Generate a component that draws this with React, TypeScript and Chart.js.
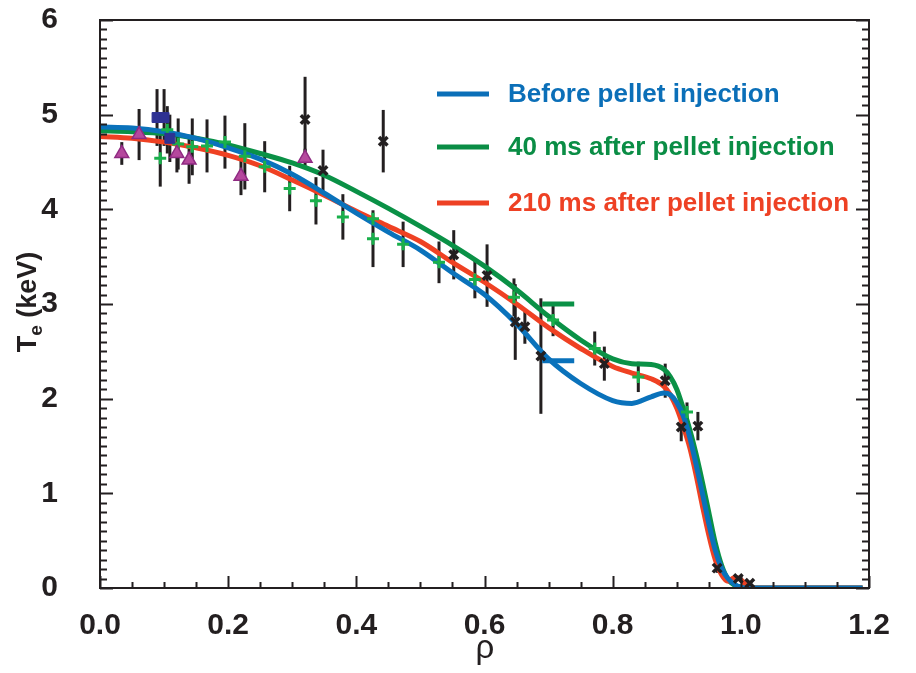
import React, { useEffect, useRef } from "react";
import { Chart, registerables } from "chart.js";

Chart.register(...registerables);

// ---------- data ----------
const curveRho = [0, 0.05, 0.1, 0.15, 0.2, 0.25, 0.3, 0.35, 0.4, 0.45, 0.5, 0.55, 0.6, 0.65, 0.7, 0.75, 0.8, 0.83, 0.86, 0.88, 0.89, 0.9, 0.91, 0.92, 0.93, 0.94, 0.95, 0.96, 0.97, 0.98, 0.99, 1.0, 1.01, 1.02, 1.05, 1.1, 1.19];
const beforeTe = [4.87, 4.86, 4.82, 4.75, 4.65, 4.53, 4.37, 4.17, 3.96, 3.76, 3.57, 3.33, 3.1, 2.79, 2.42, 2.16, 1.98, 1.95, 2.02, 2.06, 2.04, 1.96, 1.82, 1.6, 1.31, 1.0, 0.68, 0.4, 0.21, 0.1, 0.04, 0.01, 0, 0, 0, 0, 0];
const after40Te = [4.83, 4.82, 4.8, 4.75, 4.68, 4.59, 4.49, 4.36, 4.19, 4.01, 3.82, 3.62, 3.4, 3.15, 2.87, 2.62, 2.42, 2.37, 2.36, 2.31, 2.23, 2.1, 1.9, 1.68, 1.42, 1.12, 0.8, 0.48, 0.24, 0.09, 0.03, 0.01, 0, 0, 0, 0, 0];
const after210Te = [4.77, 4.75, 4.71, 4.65, 4.57, 4.46, 4.31, 4.15, 3.98, 3.82, 3.66, 3.44, 3.23, 3.0, 2.75, 2.53, 2.34, 2.27, 2.21, 2.13, 2.04, 1.9, 1.71, 1.49, 1.2, 0.87, 0.56, 0.3, 0.14, 0.07, 0.11, 0.09, 0.02, 0, 0, 0, 0];

// pedestal reference marks
const pedRho = [0.69, 0.74];
const pedGreenTe = [3.0, 3.0];
const pedBlueTe = [2.4, 2.4];

// measured points
const xMarkRho = [0.32, 0.442, 0.348, 0.552, 0.604, 0.648, 0.663, 0.688, 0.787, 0.882, 0.907, 0.933, 0.963, 0.996, 1.014];
const xMarkTe = [4.95, 4.72, 4.41, 3.52, 3.3, 2.81, 2.76, 2.45, 2.37, 2.19, 1.7, 1.71, 0.21, 0.1, 0.05];
const xMarkErr = [0.45, 0.33, 0.22, 0.26, 0.33, 0.4, 0.18, 0.61, 0.18, 0.18, 0.15, 0.15, 0.05, 0, 0];

const plusRho = [0.094, 0.105, 0.122, 0.144, 0.167, 0.195, 0.226, 0.257, 0.296, 0.337, 0.379, 0.426, 0.426, 0.473, 0.529, 0.585, 0.646, 0.707, 0.772, 0.84, 0.916];
const plusTe = [4.54, 4.84, 4.69, 4.66, 4.67, 4.71, 4.56, 4.45, 4.22, 4.09, 3.92, 3.69, 3.9, 3.63, 3.44, 3.26, 3.07, 2.83, 2.53, 2.23, 1.86];
const plusErr = [0.3, 0.25, 0.27, 0.3, 0.28, 0.28, 0.35, 0.27, 0.24, 0.25, 0.24, 0.3, 0, 0.24, 0.22, 0.2, 0.2, 0.17, 0.18, 0.16, 0.1];

const triRho = [0.034, 0.061, 0.12, 0.139, 0.22, 0.32];
const triTe = [4.59, 4.79, 4.59, 4.52, 4.35, 4.54];
const triErr = [0.12, 0.27, 0.2, 0.25, 0.2, 0.1];

const sqRho = [0.089, 0.1, 0.109];
const sqTe = [4.97, 4.97, 4.75];
const sqErr = [0.3, 0.3, 0.25];

const legendLabels = ["Before pellet injection", "40 ms after pellet injection", "210 ms after pellet injection"];
const legendColors = ["#0b6fb8", "#0a8d45", "#ee4124"];

const xTickLabels = ["0.0", "0.2", "0.4", "0.6", "0.8", "1.0", "1.2"];
const yTitle = ["T", "e", " (keV)"];
const xTitle = "ρ";

// ---------- helpers ----------
const pts = (xs: number[], ys: number[]) => xs.map((x, i) => ({ x, y: ys[i] }));
const INK = "#231f20";
const FONT = "'Liberation Sans', Arial, Helvetica, sans-serif";

const errorBarPlugin = {
  id: "errorBars",
  beforeDatasetsDraw(chart: any) {
    const { ctx, scales } = chart;
    const xs = scales.x, ys = scales.y;
    ctx.save();
    ctx.strokeStyle = INK;
    ctx.lineWidth = 3;
    ctx.lineCap = "butt";
    chart.data.datasets.forEach((ds: any) => {
      if (!ds.errors) return;
      ds.data.forEach((p: any, i: number) => {
        const e = ds.errors[i];
        if (!e) return;
        const px = xs.getPixelForValue(p.x);
        ctx.beginPath();
        ctx.moveTo(px, ys.getPixelForValue(p.y - e));
        ctx.lineTo(px, ys.getPixelForValue(p.y + e));
        ctx.stroke();
      });
    });
    ctx.restore();
  },
};

const framePlugin = {
  id: "frame",
  afterDatasetsDraw(chart: any) {
    const { ctx, chartArea: a, scales } = chart;
    const xs = scales.x, ys = scales.y;
    ctx.save();
    ctx.strokeStyle = INK;
    ctx.lineWidth = 2;
    ctx.strokeRect(a.left, a.top, a.right - a.left, a.bottom - a.top);
    ctx.beginPath();
    for (let k = 0; k <= 60; k++) {
      const py = Math.round(ys.getPixelForValue(k / 10)) + 0.5;
      const len = k % 10 === 0 ? 13 : 7;
      ctx.moveTo(a.left, py);
      ctx.lineTo(a.left + len, py);
      ctx.moveTo(a.right, py);
      ctx.lineTo(a.right - len, py);
    }
    for (let k = 0; k <= 24; k++) {
      const px = Math.round(xs.getPixelForValue(k * 0.05)) + 0.5;
      const len = k % 4 === 0 ? 12 : 6;
      ctx.moveTo(px, a.bottom);
      ctx.lineTo(px, a.bottom - len);
    }
    ctx.stroke();

    // legend
    ctx.font = `bold 26px ${FONT}`;
    ctx.textBaseline = "middle";
    ctx.textAlign = "left";
    const rows = [86, 139, 195];
    legendLabels.forEach((lab, i) => {
      ctx.strokeStyle = legendColors[i];
      ctx.lineWidth = 5;
      ctx.beginPath();
      ctx.moveTo(429, rows[i]);
      ctx.lineTo(481, rows[i]);
      ctx.stroke();
      ctx.fillStyle = legendColors[i];
      ctx.fillText(lab, 500, rows[i] + 1);
    });
    ctx.restore();
  },
  afterDraw(chart: any) {
    const { ctx } = chart;
    ctx.save();
    ctx.fillStyle = INK;
    ctx.translate(21, 294);
    ctx.rotate(-Math.PI / 2);
    ctx.textBaseline = "middle";
    ctx.textAlign = "left";
    const big = `bold 27px ${FONT}`;
    const small = `bold 19px ${FONT}`;
    ctx.font = big;
    const w1 = ctx.measureText(yTitle[0]).width;
    const w3 = ctx.measureText(yTitle[2]).width;
    ctx.font = small;
    const w2 = ctx.measureText(yTitle[1]).width;
    const x0 = -(w1 + w2 + w3) / 2;
    ctx.font = big;
    ctx.fillText(yTitle[0], x0, 0);
    ctx.font = small;
    ctx.fillText(yTitle[1], x0 + w1, 8);
    ctx.font = big;
    ctx.fillText(yTitle[2], x0 + w1 + w2, 0);
    ctx.restore();

    ctx.save();
    ctx.fillStyle = INK;
    ctx.font = `33px ${FONT}`;
    ctx.textAlign = "center";
    ctx.textBaseline = "alphabetic";
    ctx.fillText(xTitle, 477, 650);
    ctx.restore();
  },
};

export default function App() {
  const ref = useRef<HTMLCanvasElement>(null);

  useEffect(() => {
    const curve = (data: any, color: string, order: number) => ({
      data,
      showLine: true,
      borderColor: color,
      backgroundColor: color,
      borderWidth: 5,
      pointRadius: 0,
      cubicInterpolationMode: "monotone",
      order,
    });
    const tickFont = { family: FONT, weight: "bold" as const, size: 30 };

    const chart = new Chart(ref.current!, {
      type: "scatter",
      data: {
        datasets: [
          curve(pts(curveRho, after210Te), "#ef4123", 3),
          curve(pts(curveRho, after40Te), "#0a9146", 4),
          curve(pts(curveRho, beforeTe), "#0a72bb", 2),
          { ...curve(pts(pedRho, pedGreenTe), "#0a9146", 2), borderCapStyle: "butt" } as any,
          { ...curve(pts(pedRho, pedBlueTe), "#0a72bb", 2), borderCapStyle: "butt" } as any,
          {
            data: pts(sqRho, sqTe),
            errors: sqErr,
            pointStyle: "rect",
            pointRadius: 7,
            backgroundColor: "#2e3192",
            borderColor: "#2e3192",
            borderWidth: 1,
            order: 0,
          } as any,
          {
            data: pts(triRho, triTe),
            errors: triErr,
            pointStyle: "triangle",
            pointRadius: 8,
            backgroundColor: "#b5489d",
            borderColor: "#8f2a82",
            borderWidth: 1.5,
            order: 0,
          } as any,
          {
            data: pts(plusRho, plusTe),
            errors: plusErr,
            pointStyle: "cross",
            pointRadius: 6,
            borderColor: "#19b04b",
            backgroundColor: "#19b04b",
            borderWidth: 3,
            order: 0,
          } as any,
          {
            data: pts(xMarkRho, xMarkTe),
            errors: xMarkErr,
            pointStyle: "crossRot",
            pointRadius: 6,
            borderColor: INK,
            backgroundColor: INK,
            borderWidth: 3.5,
            order: 0,
          } as any,
        ],
      },
      options: {
        animation: false,
        responsive: false,
        events: [],
        layout: { padding: { top: 12, right: 39, left: 0, bottom: 0 } },
        plugins: { legend: { display: false }, tooltip: { enabled: false } },
        scales: {
          x: {
            type: "linear",
            min: 0,
            max: 1.2,
            grid: { display: false, drawTicks: false },
            border: { display: false },
            ticks: {
              stepSize: 0.2,
              autoSkip: false,
              maxRotation: 0,
              padding: 20,
              color: INK,
              font: tickFont,
              callback: (v: any) => xTickLabels[Math.round(Number(v) / 0.2)] ?? "",
            },
            afterFit: (s: any) => {
              s.height = 77;
              s.paddingLeft = 0;
              s.paddingRight = 0;
            },
          },
          y: {
            type: "linear",
            min: 0,
            max: 6,
            grid: { display: false, drawTicks: false },
            border: { display: false },
            ticks: { stepSize: 1, padding: 42, color: INK, font: tickFont },
            afterFit: (s: any) => {
              s.width = 92;
              s.paddingTop = 0;
              s.paddingBottom = 0;
            },
          },
        },
      } as any,
      plugins: [errorBarPlugin, framePlugin],
    });
    return () => chart.destroy();
  }, []);

  return (
    <canvas
      ref={ref}
      width={900}
      height={657}
      style={{ display: "block", width: 900, height: 657 }}
    />
  );
}
